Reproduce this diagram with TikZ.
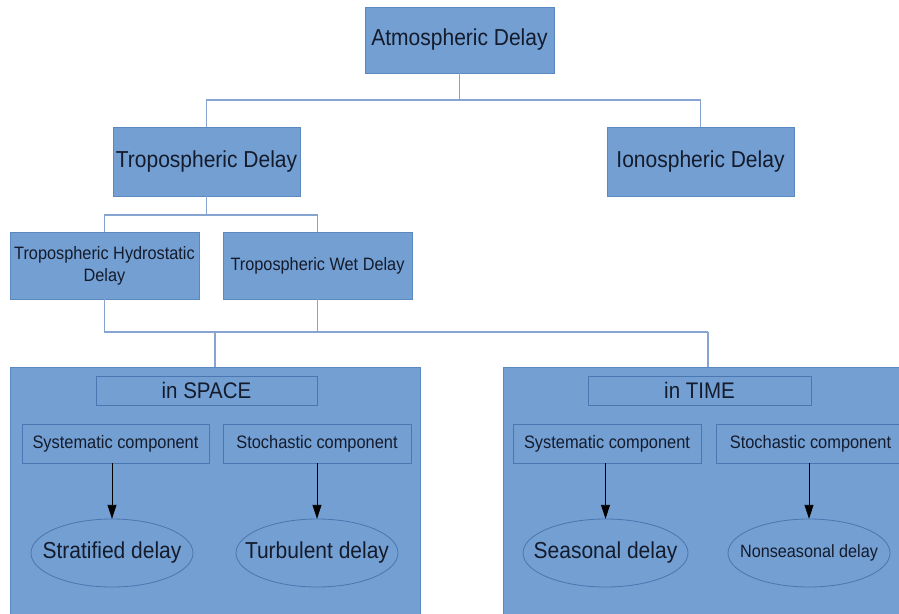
\documentclass[tikz,border=0pt]{standalone}
\usepackage{fontspec}
\usepackage{graphicx}
\setmainfont{Liberation Sans}
\usetikzlibrary{arrows.meta,shapes.geometric}
\definecolor{boxfill}{HTML}{739FD2}
\definecolor{boxline}{HTML}{5C88C2}
\definecolor{innerline}{HTML}{4A76B2}
\definecolor{conn}{HTML}{87A3CF}
\definecolor{txt}{HTML}{141B2C}
\newcommand\vst[1]{\scalebox{1}[1.1]{#1}}
\tikzset{
  box/.style={rectangle, fill=boxfill, draw=boxline, line width=0.8pt, text=txt, inner sep=0pt, align=center},
  bigbox/.style={rectangle, fill=boxfill, draw=boxline, line width=0.8pt, inner sep=0pt},
  inbox/.style={rectangle, draw=innerline, line width=0.8pt, text=txt, inner sep=0pt, align=center},
  ellholder/.style={rectangle, text=txt, inner sep=0pt, minimum height=68pt},
  ellline/.style={draw=innerline, line width=0.8pt},
  conline/.style={draw=conn, line width=1.4pt},
  arr/.style={draw=black, line width=0.9pt, -{Triangle[width=9pt,length=14pt]}},
  fbig/.style={font=\fontsize{21}{24}\selectfont},
  fmid/.style={font=\fontsize{16.3}{22}\selectfont},
  fsmall/.style={font=\fontsize{16.4}{19}\selectfont}
}
\begin{document}
\begin{tikzpicture}[x=1pt,y=-1pt]
\useasboundingbox (0,0) rectangle (899,613);
\clip (0,0) rectangle (899,613);
\fill[white] (0,0) rectangle (899,613);
% top level
\node[box,fbig,minimum width=189pt,minimum height=66pt] (atm) at (459.5,40) {\vst{Atmospheric Delay}};
\node[box,fbig,minimum width=187pt,minimum height=69pt] (trop) at (206.5,161.5) {\vst{Tropospheric Delay}};
\node[box,fbig,minimum width=187pt,minimum height=69pt] (iono) at (700.5,161.5) {\vst{Ionospheric Delay}};
\node[box,fmid,minimum width=189pt,minimum height=67pt] (hydro) at (104.5,265.5) {\vst{Tropospheric Hydrostatic}\\\vst{Delay}};
\node[box,fmid,minimum width=189pt,minimum height=67pt] (wet) at (317.5,265.5) {\vst{Tropospheric Wet Delay}};
% big boxes
\node[bigbox,minimum width=410pt,minimum height=263pt] (space) at (215,498.5) {};
\node[bigbox,minimum width=410pt,minimum height=263pt] (time) at (708,498.5) {};
% connectors
\coordinate (j1) at (459.5,100);
\coordinate (j2) at (206.5,215);
\coordinate (j3) at (215,332);
\coordinate (j4) at (708,332);
\draw[conline] (atm.south) -- (j1);
\draw[conline] (trop.north) |- (j1) -| (iono.north);
\draw[conline] (trop.south) -- (j2);
\draw[conline] (hydro.north) |- (j2) -| (wet.north);
\draw[conline] (hydro.south) |- (j3) -- (j4);
\draw[conline] (wet.south) |- (j3);
\draw[conline] (j3) -- (space.north);
\draw[conline] (j4) -- (time.north);
% in SPACE
\node[inbox,font=\fontsize{20.5}{24}\selectfont,minimum width=221pt,minimum height=29pt] (inspace) at (206.5,390.5) {\vst{in SPACE}};
\node[inbox,fsmall,minimum width=187pt,minimum height=39pt] (sysL) at (115.5,443.5) {\vst{Systematic component}};
\node[inbox,fsmall,minimum width=188pt,minimum height=39pt] (stoL) at (317,443.5) {\vst{Stochastic component}};
\node[ellholder,fbig,minimum width=162pt] (strat) at (112,553) {\vst{Stratified delay}};
\node[ellholder,fbig,minimum width=162pt] (turb) at (317,553) {\vst{Turbulent delay}};
\draw[ellline] (strat.center) ellipse (81 and 34);
\draw[ellline] (turb.center) ellipse (81 and 34);
\draw[arr] (sysL.south -| strat.north) -- (strat.north);
\draw[arr] (stoL.south -| turb.north) -- (turb.north);
% in TIME
\node[inbox,font=\fontsize{20.5}{24}\selectfont,minimum width=223pt,minimum height=29pt] (intime) at (699.5,390.5) {\vst{in TIME}};
\node[inbox,fsmall,minimum width=188pt,minimum height=39pt] (sysR) at (607,443.5) {\vst{Systematic component}};
\node[inbox,fsmall,minimum width=189pt,minimum height=39pt] (stoR) at (810.5,443.5) {\vst{Stochastic component}};
\node[ellholder,fbig,minimum width=165pt] (seas) at (605.5,553) {\vst{Seasonal delay}};
\node[ellholder,font=\fontsize{16.2}{19}\selectfont,minimum width=162pt] (nonseas) at (809,553) {\vst{Nonseasonal delay}};
\draw[ellline] (seas.center) ellipse (82.5 and 34);
\draw[ellline] (nonseas.center) ellipse (81 and 34);
\draw[arr] (sysR.south -| seas.north) -- (seas.north);
\draw[arr] (stoR.south -| nonseas.north) -- (nonseas.north);
\end{tikzpicture}
\end{document}
